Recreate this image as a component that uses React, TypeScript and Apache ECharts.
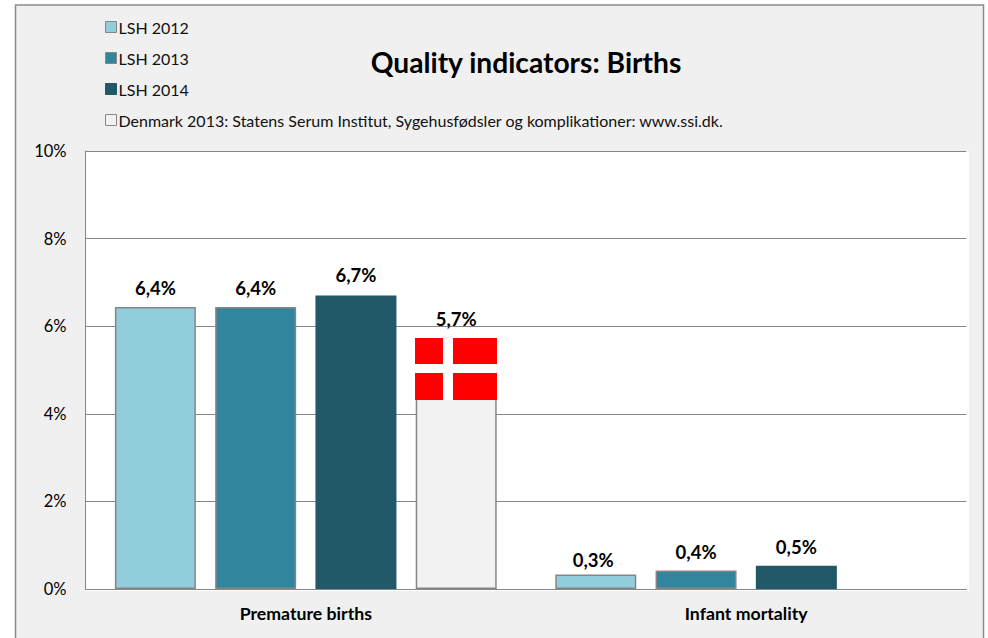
import React, { useEffect, useRef } from "react";
import * as echarts from "echarts";

const categories = ["Premature births", "Infant mortality"];
const lsh2012 = [6.44, 0.33];
const lsh2013 = [6.44, 0.42];
const lsh2014 = [6.7, 0.53];
const denmark2013 = [5.7, null];
const names = ["LSH 2012", "LSH 2013", "LSH 2014", "Denmark 2013: Statens Serum Institut, Sygehusfødsler og komplikationer: www.ssi.dk."];
const colors = ["#92cddc", "#31859c", "#215968", "#f2f2f2"];
const title = "Quality indicators: Births";
const FONT = "Lato, 'Open Sans', sans-serif";
const GRAY = "#868686";

const valueSets = [lsh2012, lsh2013, lsh2014, denmark2013];

// Hand-placed data labels in the reference, keyed "series-category".
const labelNudges: Record<string, number[]> = {
  "0-1": [-2.5, 4],
  "2-0": [0, -2],
  "3-0": [0, -2],
};

export default function App() {
  const ref = useRef<HTMLDivElement>(null);
  useEffect(() => {
    const chart = echarts.init(ref.current!, null, { renderer: "svg" });
    chart.setOption({
      animation: false,
      backgroundColor: "#ffffff",
      textStyle: { fontFamily: FONT },
      title: {
        text: title,
        left: 521,
        top: 43,
        padding: 5,
        textAlign: "center",
        textStyle: { fontFamily: FONT, fontSize: 28.2, fontWeight: "bold", color: "#000" },
      },
      legend: {
        orient: "vertical",
        left: 105,
        top: 19,
        padding: 0,
        itemWidth: 11,
        itemHeight: 11,
        itemGap: 15,
        icon: "rect",
        selectedMode: false,
        textStyle: { fontFamily: FONT, fontSize: 16, color: "#111", padding: [0, 0, 0, -3] },
        data: names.map((name, i) => ({
          name,
          itemStyle: {
            color: colors[i],
            borderColor: i === 2 ? colors[2] : GRAY,
            borderWidth: 1,
          },
        })),
      },
      grid: {
        left: 85.6,
        right: 21.6,
        top: 151,
        bottom: 49,
        show: false,
      },
      xAxis: {
        type: "category",
        data: categories,
        axisTick: { show: false },
        axisLine: { lineStyle: { color: GRAY, width: 1 } },
        axisLabel: { fontFamily: FONT, fontSize: 17.7, fontWeight: "bold", color: "#000", margin: 15 },
      },
      yAxis: {
        type: "value",
        min: 0,
        max: 10,
        interval: 2,
        axisLine: { show: true, lineStyle: { color: GRAY, width: 1 } },
        axisTick: { show: false },
        splitLine: { lineStyle: { color: GRAY, width: 1 } },
        axisLabel: { fontFamily: FONT, fontSize: 16.5, color: "#000", margin: 19, padding: [0, 0, 4, 0], formatter: "{value}%" },
      },
      series: valueSets.map((data, i) => ({
        name: names[i],
        type: "bar",
        data: data.map((value, j) => {
          const offset = labelNudges[`${i}-${j}`];
          return offset ? { value, label: { offset } } : value;
        }),
        barWidth: 81,
        barGap: "23.8%",
        itemStyle: {
          color: colors[i],
          borderColor: i === 2 ? colors[2] : GRAY,
          borderWidth: 1.5,
        },
        label: {
          show: true,
          position: "top",
          distance: 9,
          fontFamily: FONT,
          fontSize: 18.5,
          fontWeight: "bold",
          color: "#000",
          formatter: (p: any) => p.value.toFixed(1).replace(".", ",") + "%",
        },
      })),
      graphic: [
        {
          type: "rect",
          z: -10,
          silent: true,
          shape: { x: 15.5, y: 5, width: 968, height: 660 },
          style: { fill: "#f0f0f0", stroke: "#8c8c8c", lineWidth: 1.5 },
        },
        {
          type: "rect",
          z: -5,
          silent: true,
          shape: { x: 86, y: 151, width: 883, height: 440 },
          style: { fill: "#ffffff" },
        },
        { type: "rect", z: 100, silent: true, shape: { x: 415, y: 338, width: 82, height: 62 }, style: { fill: "#ff0000" } },
        { type: "rect", z: 101, silent: true, shape: { x: 443, y: 338, width: 10, height: 62 }, style: { fill: "#ffffff" } },
        { type: "rect", z: 101, silent: true, shape: { x: 415, y: 364, width: 82, height: 9 }, style: { fill: "#ffffff" } },
      ],
    });
    return () => chart.dispose();
  }, []);
  return <div ref={ref} style={{ position: "fixed", left: 0, top: 0, width: 988, height: 638 }} />;
}
